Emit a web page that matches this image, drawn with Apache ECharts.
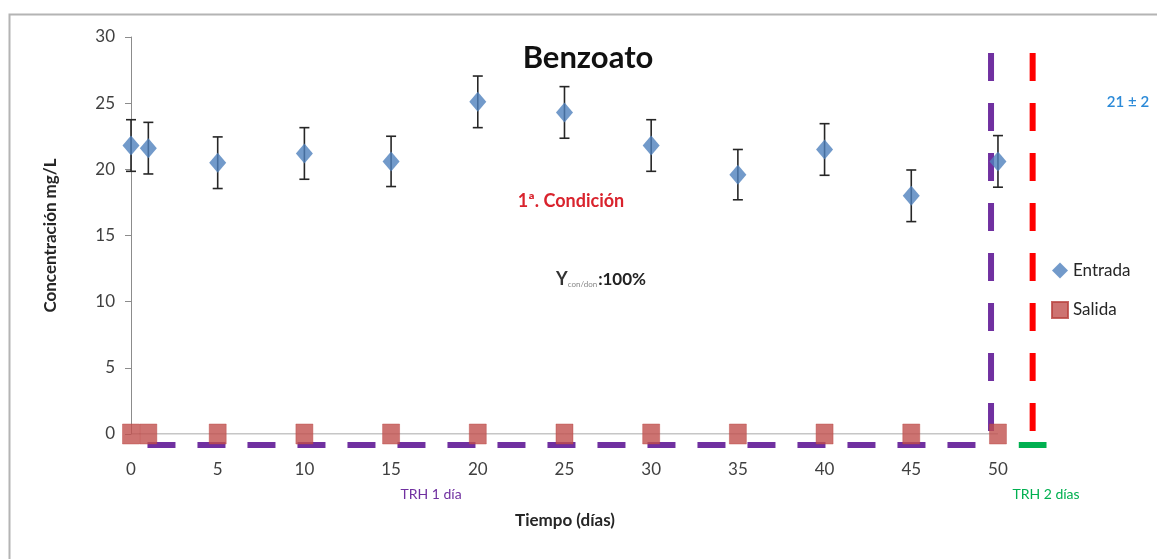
<!DOCTYPE html>
<html>
<head>
<meta charset="utf-8">
<script src="https://cdn.jsdelivr.net/npm/echarts@6/dist/echarts.min.js"></script>
<style>html,body{margin:0;padding:0;background:#fff;}#c{width:1157px;height:559px;}</style>
</head>
<body>
<div id="c"></div>
<script>
const days = [0, 1, 5, 10, 15, 20, 25, 30, 35, 40, 45, 50];
const entrada = [21.8, 21.6, 20.5, 21.2, 20.6, 25.1, 24.3, 21.8, 19.6, 21.5, 18.0, 20.6];
const entradaErr = [1.95, 1.95, 1.95, 1.95, 1.9, 1.95, 1.95, 1.95, 1.9, 1.95, 1.95, 1.95];
const salida = [0, 0, 0, 0, 0, 0, 0, 0, 0, 0, 0, 0];
const xTicks = [0, 5, 10, 15, 20, 25, 30, 35, 40, 45, 50];
const yTicks = [0, 5, 10, 15, 20, 25, 30];
// axis line extent and reference lines (data coordinates)
const xAxisLine = [[0, 0], [50, 0]];
const trh1Horizontal = [[0.95, -0.83], [49.7, -0.83]];
const trh1Vertical = [[49.6, 28.8], [49.6, 0]];
const trh2Vertical = [[52, 28.8], [52, 0]];
const trh2Horizontal = [[51.2, -0.83], [52.8, -0.83]];

const FONT = 'Lato, "Open Sans", sans-serif';
const chart = echarts.init(document.getElementById('c'), null, {renderer: 'canvas'});

const entradaData = days.map((d, i) => [d, entrada[i]]);
const salidaData = days.map((d, i) => [d, salida[i]]);
const errData = days.map((d, i) => [d, entrada[i] - entradaErr[i], entrada[i] + entradaErr[i]]);

const XMAX = 56;
const option = {
  backgroundColor: '#ffffff',
  animation: false,
  textStyle: {fontFamily: FONT},
  grid: {left: 131, right: 55, top: 37, bottom: 125, containLabel: false, outerBoundsMode: 'none'},
  legend: {
    orient: 'vertical',
    left: 1046,
    top: 257,
    itemGap: 22,
    itemWidth: 16,
    itemHeight: 16,
    textStyle: {fontFamily: FONT, fontSize: 17, color: '#262626'},
    data: [
      {name: 'Entrada', icon: 'diamond'},
      {name: 'Salida', icon: 'rect'}
    ]
  },
  xAxis: {
    type: 'value',
    min: 0, max: XMAX, interval: 5,
    axisLine: {show: false},
    axisTick: {show: false},
    splitLine: {show: false},
    axisLabel: {
      margin: 27, fontSize: 17, color: '#404040', fontFamily: FONT,
      showMaxLabel: false,
      formatter: v => xTicks.includes(v) ? String(v) : ''
    }
  },
  yAxis: {
    type: 'value',
    min: 0, max: 30, interval: 5,
    name: 'Concentración mg/L',
    nameLocation: 'middle',
    nameGap: 72,
    nameTextStyle: {fontFamily: FONT, fontSize: 17, fontWeight: 'bold', color: '#262626'},
    axisLine: {show: true, lineStyle: {color: '#8c8c8c', width: 1}},
    axisTick: {show: true, inside: false, length: 6, lineStyle: {color: '#8c8c8c'}},
    splitLine: {show: false},
    axisLabel: {
      margin: 16, fontSize: 17, color: '#404040', fontFamily: FONT,
      formatter: v => yTicks.includes(v) ? String(v) : ''
    }
  },
  graphic: [
    {type: 'rect', left: 7, top: 12, shape: {width: 1200, height: 600},
     style: {fill: 'none', stroke: '#b4b4b4', lineWidth: 2}, z: -10, silent: true},
    {type: 'text', x: 588, y: 58, style: {text: 'Benzoato', font: 'bold 31px ' + FONT, fill: '#111', textAlign: 'center', textVerticalAlign: 'middle'}},
    {type: 'text', x: 565, y: 521, style: {text: 'Tiempo (días)', font: 'bold 17px ' + FONT, fill: '#262626', textAlign: 'center', textVerticalAlign: 'middle'}},
    {type: 'text', x: 571, y: 201, style: {
      text: '1ª. Condición', font: 'bold 18px ' + FONT, fill: '#d9232d',
      textAlign: 'center', textVerticalAlign: 'middle'}},
    {type: 'text', x: 601, y: 279, style: {
      text: '{y|Y}{s|con/don}{b|:100%}',
      rich: {
        y: {fontFamily: FONT, fontSize: 18, fontWeight: 'bold', fill: '#333', verticalAlign: 'bottom'},
        s: {fontFamily: FONT, fontSize: 8, fill: '#888', verticalAlign: 'bottom', padding: [0, 1, 0, 0]},
        b: {fontFamily: FONT, fontSize: 17, fontWeight: 'bold', fill: '#222', verticalAlign: 'bottom'}
      },
      textAlign: 'center', textVerticalAlign: 'middle'}},
    {type: 'text', x: 1128, y: 102, style: {
      text: '21 ± 2', font: '600 15px ' + FONT, fill: '#2b8ad8', textAlign: 'center', textVerticalAlign: 'middle'}},
    {type: 'text', x: 431, y: 494, style: {
      text: 'TRH 1 día', font: '14px ' + FONT, fill: '#7030a0', textAlign: 'center', textVerticalAlign: 'middle'}},
    {type: 'text', x: 1046, y: 494, style: {
      text: 'TRH 2 días', font: '14px ' + FONT, fill: '#00b050', textAlign: 'center', textVerticalAlign: 'middle'}}
  ],
  series: [
    {
      name: 'axisLineX', type: 'line', data: xAxisLine, symbol: 'none', silent: true, z: 1,
      lineStyle: {color: '#8c8c8c', width: 1}
    },
    {
      name: 'TRH1h', type: 'line', data: trh1Horizontal, clip: false, symbol: 'none', silent: true, z: 1,
      lineStyle: {color: '#7030a0', width: 6, type: [28, 22], cap: 'butt'}
    },
    {
      name: 'TRH1v', type: 'line', data: trh1Vertical, clip: false, symbol: 'none', silent: true, z: 1,
      lineStyle: {color: '#7030a0', width: 6, type: [28, 22], cap: 'butt'}
    },
    {
      name: 'TRH2v', type: 'line', data: trh2Vertical, clip: false, symbol: 'none', silent: true, z: 1,
      lineStyle: {color: '#ff0000', width: 6, type: [28, 22], cap: 'butt'}
    },
    {
      name: 'TRH2h', type: 'line', data: trh2Horizontal, clip: false, symbol: 'none', silent: true, z: 1,
      lineStyle: {color: '#00b050', width: 6, type: 'solid', cap: 'butt'}
    },
    {
      name: 'Salida', type: 'scatter', data: salidaData, symbol: 'rect', symbolSize: [17, 20], clip: false, z: 3,
      itemStyle: {color: '#c0504d', borderColor: '#b8423e', borderWidth: 0.5}
    },
    {
      name: 'ErrBars', type: 'custom', data: errData, clip: false, z: 4, silent: true,
      renderItem: function (params, api) {
        const x = api.value(0);
        const lo = api.coord([x, api.value(1)]);
        const hi = api.coord([x, api.value(2)]);
        const hw = 5;
        const st = {stroke: '#262626', lineWidth: 1.6};
        return {
          type: 'group',
          children: [
            {type: 'line', shape: {x1: lo[0], y1: lo[1], x2: hi[0], y2: hi[1]}, style: st},
            {type: 'line', shape: {x1: lo[0] - hw, y1: lo[1], x2: lo[0] + hw, y2: lo[1]}, style: st},
            {type: 'line', shape: {x1: hi[0] - hw, y1: hi[1], x2: hi[0] + hw, y2: hi[1]}, style: st}
          ]
        };
      },
      encode: {x: 0, y: [1, 2]}
    },
    {
      name: 'Entrada', type: 'scatter', data: entradaData, symbol: 'diamond', symbolSize: [17, 20], clip: false, z: 5,
      itemStyle: {color: '#4f81bd'}
    }
  ]
};
chart.setOption(option);
</script>
</body>
</html>
